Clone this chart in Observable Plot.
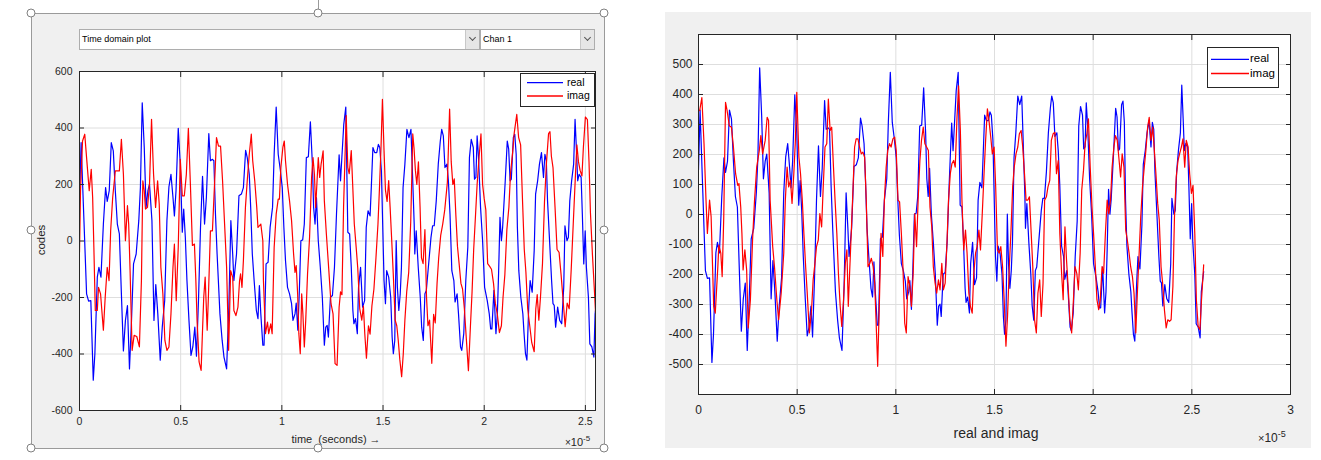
<!DOCTYPE html>
<html><head><meta charset="utf-8">
<script src="https://cdn.jsdelivr.net/npm/d3@7"></script>
<script src="https://cdn.jsdelivr.net/npm/@observablehq/plot@0.6"></script>
<style>
html,body{margin:0;padding:0;background:#fff;}
body{width:1321px;height:460px;position:relative;overflow:hidden;font-family:"Liberation Sans",Arial,Helvetica,sans-serif;color:#262626;}
.a{position:absolute;}
.handle{position:absolute;width:9px;height:9px;border:1.3px solid #808080;border-radius:50%;background:#fff;transform:translate(-50%,-50%);box-sizing:border-box;}
.dd{position:absolute;background:#fff;border:1px solid #adadad;box-sizing:border-box;font-size:9px;line-height:19px;padding-left:2px;color:#000;}
.ddbtn{position:absolute;top:0;right:0;width:13px;height:19px;background:#e6e6e6;border-left:1px solid #c8c8c8;}
.ddbtn::after{content:"";position:absolute;left:3.5px;top:5px;width:4px;height:4px;border-right:1px solid #555;border-bottom:1px solid #555;transform:rotate(45deg);}
.leg{position:absolute;background:#fff;border:1px solid #262626;box-sizing:border-box;}
.ltxt{position:absolute;color:#000;white-space:nowrap;}
svg{position:absolute;}
</style></head><body>
<script>
// ---------- data (time axis in units of 1e-5 s) ----------
const realT = [0,0.008,0.022,0.035,0.045,0.056,0.068,0.076,0.088,0.096,0.106,0.118,0.129,0.137,0.147,0.157,0.167,0.177,0.187,0.197,0.207,0.217,0.227,0.237,0.247,0.257,0.267,0.280,0.293,0.301,0.310,0.320,0.329,0.338,0.346,0.358,0.368,0.377,0.387,0.399,0.409,0.421,0.432,0.442,0.452,0.462,0.469,0.477,0.488,0.498,0.508,0.515,0.523,0.531,0.541,0.551,0.560,0.570,0.578,0.588,0.598,0.608,0.618,0.627,0.639,0.647,0.657,0.664,0.672,0.680,0.694,0.705,0.714,0.727,0.738,0.748,0.757,0.763,0.776,0.788,0.800,0.810,0.821,0.829,0.839,0.846,0.854,0.863,0.874,0.882,0.889,0.896,0.906,0.912,0.922,0.932,0.942,0.954,0.962,0.972,0.982,0.992,1.002,1.010,1.018,1.028,1.038,1.048,1.055,1.065,1.071,1.079,1.086,1.094,1.103,1.111,1.121,1.131,1.141,1.151,1.157,1.164,1.171,1.180,1.190,1.200,1.210,1.217,1.224,1.230,1.240,1.250,1.260,1.270,1.283,1.290,1.306,1.316,1.326,1.335,1.343,1.351,1.356,1.364,1.373,1.379,1.389,1.399,1.409,1.417,1.426,1.436,1.442,1.450,1.459,1.469,1.477,1.484,1.492,1.505,1.512,1.518,1.528,1.538,1.545,1.551,1.558,1.565,1.571,1.578,1.585,1.591,1.599,1.608,1.618,1.628,1.638,1.644,1.654,1.657,1.664,1.674,1.684,1.691,1.699,1.707,1.714,1.724,1.737,1.745,1.753,1.763,1.773,1.783,1.790,1.798,1.806,1.816,1.823,1.831,1.840,1.850,1.856,1.866,1.873,1.883,1.889,1.899,1.909,1.919,1.927,1.936,1.946,1.952,1.959,1.965,1.972,1.982,1.992,2.002,2.015,2.025,2.032,2.038,2.048,2.058,2.065,2.071,2.078,2.085,2.091,2.104,2.114,2.121,2.128,2.134,2.144,2.151,2.158,2.164,2.171,2.181,2.191,2.197,2.204,2.211,2.220,2.227,2.237,2.247,2.254,2.264,2.273,2.283,2.293,2.300,2.307,2.313,2.323,2.333,2.340,2.346,2.353,2.363,2.373,2.383,2.393,2.399,2.409,2.416,2.423,2.432,2.442,2.449,2.456,2.462,2.469,2.479,2.485,2.492,2.499,2.505,2.515,2.522,2.532,2.542,2.548,2.560];
const realV = [148,348,72,-187,-213,-211,-493,-399,-128,-93,-128,60,189,140,178,348,319,178,60,25,-187,-389,-281,-229,-453,-281,-81,-46,72,189,489,331,119,178,201,72,-281,-154,-258,-422,-305,-211,72,192,236,154,89,178,399,272,31,113,13,-140,-281,-405,-375,-305,-408,-211,48,229,60,154,380,284,289,284,95,-46,-258,-352,-411,-453,-234,72,-46,-140,-46,160,166,189,321,295,236,119,-46,-140,-246,-275,-158,-258,-369,-369,-81,-75,48,119,307,474,307,254,189,48,-69,-164,-187,-222,-281,-258,-220,-316,-187,1,4,60,295,298,422,272,119,60,154,1,-93,-199,-369,-305,-299,-340,-199,-193,-93,95,305,213,413,474,31,25,-93,-246,-293,-275,-328,-164,-93,-234,-211,48,107,89,189,331,313,313,342,331,248,-140,-222,-105,-128,-199,-340,-399,-352,1,-164,-246,-187,-93,189,272,395,366,395,272,60,-46,36,-93,-199,-305,-352,-187,-175,-93,13,54,54,142,272,354,395,372,260,272,213,95,-105,-140,-216,-187,-258,-375,-387,-328,-140,-22,295,360,331,219,225,372,295,119,1,-164,-211,-258,-311,-311,-175,-328,-258,-116,84,1,48,213,354,325,213,219,366,378,307,48,-105,-199,-258,-328,-399,-422,-234,-140,-181,-34,166,213,272,313,225,307,284,142,1,-140,-222,-228,-305,-234,-281,-293,-164,54,1,13,142,213,272,431,319,213,236,225,95,-81,36,-93,-199,-364,-375,-411,-258,-190];

const imagAT = [0,0.005,0.015,0.026,0.035,0.048,0.058,0.065,0.071,0.078,0.088,0.094,0.104,0.118,0.127,0.137,0.146,0.154,0.164,0.177,0.187,0.197,0.207,0.217,0.227,0.237,0.243,0.250,0.260,0.270,0.283,0.296,0.306,0.313,0.320,0.326,0.336,0.346,0.356,0.366,0.376,0.386,0.394,0.402,0.412,0.422,0.432,0.442,0.452,0.462,0.469,0.478,0.488,0.498,0.508,0.518,0.528,0.538,0.548,0.558,0.568,0.575,0.581,0.591,0.601,0.608,0.614,0.621,0.631,0.637,0.647,0.657,0.671,0.677,0.687,0.697,0.707,0.717,0.727,0.737,0.747,0.757,0.763,0.773,0.783,0.791,0.796,0.803,0.810,0.820,0.829,0.839,0.849,0.856,0.866,0.876,0.882,0.896,0.906,0.909,0.919,0.929,0.935,0.945,0.952,0.962,0.972,0.982,0.988,0.995,1.005,1.012,1.018,1.028,1.038,1.048,1.058,1.065,1.071,1.078,1.084,1.091,1.098,1.104,1.111,1.118,1.127,1.137,1.147,1.154,1.161,1.167,1.174,1.180,1.187,1.194,1.204,1.210,1.220,1.230,1.243,1.253,1.263,1.273,1.283,1.290,1.297,1.305,1.318,1.326,1.333,1.343,1.350,1.358,1.367,1.375,1.385,1.395,1.403,1.410,1.418,1.428,1.436,1.445,1.455,1.465,1.475,1.482,1.490,1.497,1.505,1.512,1.520,1.528,1.535,1.543,1.552,1.560,1.568,1.575,1.583,1.592,1.600,1.608,1.617,1.627,1.637,1.647,1.653,1.660,1.667,1.675,1.683,1.690,1.698,1.707,1.715,1.722,1.730,1.741,1.750,1.758,1.767,1.775,1.785,1.795,1.805,1.818,1.829,1.837,1.845,1.852,1.860,1.868,1.876,1.885,1.893,1.902,1.912,1.922,1.932,1.940,1.948,1.957,1.965,1.975,1.984,1.992,2.000,2.008,2.017,2.027,2.036,2.046,2.055,2.065,2.075,2.085,2.093,2.102,2.112,2.122,2.130,2.140,2.148,2.161,2.170,2.180,2.190,2.198,2.206,2.215,2.225,2.235,2.247,2.255,2.262,2.270,2.278,2.288,2.298,2.308,2.318,2.325,2.332,2.340,2.350,2.360,2.370,2.380,2.390,2.400,2.410,2.420,2.430,2.440,2.450,2.458,2.466,2.474,2.483,2.490,2.500,2.510,2.518,2.525,2.535,2.545,2.550];
const imagAV = [-40,178,354,378,295,178,254,154,-22,-246,-246,-164,-187,-316,-199,-93,-140,36,154,248,248,248,360,236,1,125,60,-105,-387,-334,-338,-375,-140,213,178,113,119,201,431,236,119,213,131,-93,-187,-352,-387,-375,-258,-93,-11,-211,-22,289,160,160,236,399,201,-16,-11,-140,-281,-428,-458,-316,-199,-128,-316,-199,36,36,260,366,336,336,213,60,-93,-387,-105,-128,-246,-264,-234,-140,-116,-164,-69,119,213,307,378,284,213,119,48,60,1,-140,-328,-287,-328,-293,-328,-22,95,148,148,260,331,354,284,201,142,72,-46,-111,-87,-187,-328,-399,-187,-258,-375,-281,-116,13,225,295,236,119,213,295,225,272,319,142,25,-81,-222,-258,-434,-440,-234,-180,-190,120,444,260,238,320,200,60,-20,-95,-240,-280,-230,-330,-415,-300,-330,-230,-170,-60,60,180,330,501,320,180,140,214,120,2,-140,-280,-300,-350,-420,-480,-400,-280,-180,-110,70,379,330,250,200,280,120,-60,-80,40,-200,-300,-280,-433,-260,-290,-150,-60,20,60,110,208,467,280,200,220,90,-20,-80,-150,-170,-240,-350,-459,-300,-180,-30,90,200,300,379,200,150,110,-80,-90,-100,-150,-220,-260,-324,-300,-200,-120,40,120,240,310,380,448,367,340,130,-30,-110,-240,-300,-360,-392,-240,-190,-280,-200,-80,140,280,380,387,300,260,120,-30,-40,-120,-210,-303,-220,-240,-100,60,220,340,280,250,230,330,439,430,280,100,-50,-180,-250];

const imagBT = [0.006,0.017,0.028,0.038,0.045,0.056,0.064,0.077,0.085,0.098,0.103,0.113,0.120,0.128,0.137,0.145,0.156,0.167,0.177,0.188,0.199,0.205,0.214,0.220,0.226,0.235,0.244,0.252,0.263,0.274,0.284,0.295,0.308,0.316,0.325,0.338,0.348,0.355,0.363,0.376,0.385,0.397,0.406,0.419,0.432,0.440,0.449,0.457,0.466,0.474,0.483,0.491,0.498,0.509,0.517,0.526,0.534,0.543,0.551,0.562,0.573,0.581,0.590,0.598,0.607,0.615,0.624,0.632,0.641,0.650,0.658,0.667,0.675,0.684,0.692,0.701,0.709,0.718,0.726,0.735,0.744,0.752,0.759,0.765,0.774,0.782,0.791,0.799,0.808,0.816,0.825,0.833,0.842,0.850,0.859,0.868,0.876,0.885,0.893,0.902,0.908,0.917,0.925,0.934,0.942,0.951,0.959,0.968,0.976,0.985,0.994,1.002,1.011,1.019,1.028,1.036,1.045,1.053,1.062,1.071,1.079,1.088,1.096,1.105,1.113,1.122,1.130,1.139,1.147,1.156,1.165,1.173,1.182,1.190,1.199,1.207,1.216,1.224,1.233,1.241,1.250,1.259,1.267,1.276,1.284,1.293,1.301,1.310,1.318,1.327,1.335,1.344,1.353,1.361,1.370,1.378,1.387,1.395,1.404,1.412,1.421,1.429,1.438,1.447,1.455,1.464,1.472,1.481,1.489,1.498,1.506,1.515,1.524,1.532,1.541,1.549,1.558,1.566,1.575,1.583,1.592,1.600,1.609,1.618,1.626,1.635,1.643,1.652,1.660,1.669,1.677,1.686,1.694,1.703,1.712,1.720,1.729,1.737,1.746,1.754,1.763,1.771,1.780,1.788,1.797,1.806,1.814,1.823,1.831,1.840,1.848,1.857,1.865,1.874,1.882,1.891,1.900,1.908,1.917,1.925,1.934,1.942,1.951,1.959,1.968,1.976,1.985,1.994,2.002,2.011,2.019,2.028,2.036,2.045,2.053,2.062,2.071,2.079,2.088,2.096,2.105,2.113,2.122,2.130,2.139,2.147,2.156,2.165,2.173,2.182,2.190,2.199,2.207,2.216,2.224,2.233,2.241,2.250,2.259,2.267,2.276,2.284,2.293,2.302,2.310,2.318,2.327,2.335,2.344,2.352,2.361,2.370,2.378,2.387,2.395,2.404,2.412,2.421,2.430,2.438,2.447,2.455,2.464,2.472,2.481,2.489,2.498,2.506,2.515,2.523,2.532,2.541,2.549,2.560];
const imagBV = [346,390,236,48,-63,48,-8,-306,-329,-174,-102,-129,-207,-8,374,346,296,291,225,136,97,103,25,-63,-185,-118,-185,-378,-284,-85,48,158,213,263,202,247,324,313,48,-107,-174,-284,-351,-262,-129,48,158,92,114,37,136,247,407,191,136,48,-63,-174,-262,-395,-317,-218,-163,-107,-85,3,-41,92,225,236,385,280,291,158,48,-63,-196,-306,-373,-284,-163,-118,-306,-207,-63,70,225,252,252,225,202,208,191,48,-174,-163,-146,-174,-229,-395,-506,-284,-63,-140,48,158,213,236,225,252,258,213,48,42,-63,-174,-362,-395,-207,-240,-306,-196,3,-107,48,180,247,291,236,225,213,25,-41,-174,-229,-262,-218,-251,-163,-251,-229,-96,48,136,169,180,158,324,429,280,48,-118,-52,-129,-262,-306,-329,-196,-129,-107,-52,-118,3,136,247,352,313,258,202,225,92,-118,-129,-107,-174,-284,-439,-340,-174,-63,92,158,202,225,269,280,225,136,48,48,59,-63,-174,-351,-395,-262,-218,-340,-229,48,59,92,114,247,269,274,136,180,-63,-196,-284,-41,-152,-251,-351,-395,-284,-174,-196,-251,-129,81,147,236,269,319,158,25,-63,-174,-284,-317,-284,-174,-196,-63,48,3,48,158,225,263,247,191,125,202,158,-52,-85,-129,-174,-207,-262,-395,-262,-129,-8,92,158,213,291,324,247,291,213,136,37,-19,-174,-229,-317,-378,-351,-356,-351,-240,-8,125,180,202,225,252,158,247,225,136,70,97,-63,-284,-373,-384,-284,-168];

// axis ticks
const xTicksA = [0,0.5,1,1.5,2,2.5];
const yTicksA = [-600,-400,-200,0,200,400,600];
const xTicksB = [0,0.5,1,1.5,2,2.5,3];
const yTicksB = [-500,-400,-300,-200,-100,0,100,200,300,400,500];
const seriesNames = ["real","imag"];
const seriesColors = ["#0000ff","#ff0000"];

const rows = (T,V) => T.map((t,i)=>({t, v: V[i]}));
const realRows = rows(realT, realV);
const imagARows = rows(imagAT, imagAV);
const imagBRows = rows(imagBT, imagBV);

const FONT = '"Liberation Sans", Arial, Helvetica, sans-serif';
const AX = "#262626";
const GRID = "#dedede";

function add(html){ document.body.insertAdjacentHTML("beforeend", html); }

// ---------- left panel chrome ----------
add(`<div class="a" style="left:31px;top:13px;width:574px;height:436px;background:#f0f0f0;border:1px solid #9a9a9a;box-sizing:border-box"></div>`);
add(`<div class="a" style="left:318px;top:0;width:1px;height:13px;background:#9a9a9a"></div>`);

function chart(opts){
  const {width,height,ml,mr,mt,mb,xd,yd,xt,yt,data,fs,padX,padY} = opts;
  return Plot.plot({
    width, height, marginLeft: ml, marginRight: mr, marginTop: mt, marginBottom: mb,
    x: {domain: xd}, y: {domain: yd},
    style: {background: "transparent", fontFamily: FONT, fontSize: fs + "px", overflow: "visible"},
    marks: [
      Plot.frame({fill: "white"}),
      Plot.gridX(xt, {stroke: GRID, strokeOpacity: 1}),
      Plot.gridY(yt, {stroke: GRID, strokeOpacity: 1}),
      ...data.map((d,i)=>Plot.line(d, {x: "t", y: "v", stroke: seriesColors[i], strokeWidth: 1.2, clip: true})),
      Plot.axisX(xt, {anchor: "bottom", tickSize: -5, tickPadding: padX, tickFormat: d => String(d), label: null, color: AX}),
      Plot.axisX(xt, {anchor: "top", tickSize: -5, fill: "none", label: null, stroke: AX}),
      Plot.axisY(yt, {anchor: "left", tickSize: -5, tickPadding: padY, tickFormat: d => String(d), label: null, color: AX}),
      Plot.axisY(yt, {anchor: "right", tickSize: -5, fill: "none", label: null, stroke: AX}),
      Plot.frame({stroke: AX, strokeWidth: 1})
    ]
  });
}

const left = chart({width: 620, height: 460, ml: 79, mr: 25, mt: 71, mb: 50,
  xd: [0, 2.55], yd: [-600, 600], xt: xTicksA, yt: yTicksA,
  data: [realRows, imagARows], fs: 10.5, padX: 12, padY: 12});
left.style.left = "0px"; left.style.top = "0px";
document.body.appendChild(left);

// right panel background then chart
add(`<div class="a" style="left:665px;top:12px;width:646px;height:436px;background:#f0f0f0"></div>`);
const right = chart({width: 661, height: 460, ml: 38, mr: 31, mt: 34, mb: 66,
  xd: [0, 3], yd: [-600, 600], xt: xTicksB, yt: yTicksB,
  data: [realRows, imagBRows], fs: 12, padX: 16, padY: 11});
right.style.left = "660px"; right.style.top = "0px";
document.body.appendChild(right);

// dropdowns (left)
add(`<div class="dd" style="left:79px;top:29px;width:401px;height:21px">Time domain plot<div class="ddbtn"></div></div>`);
add(`<div class="dd" style="left:480px;top:29px;width:115px;height:21px">Chan 1<div class="ddbtn"></div></div>`);

// axis titles
add(`<div class="a" style="left:41px;top:240px;font-size:11.5px;transform:translate(-50%,-50%) rotate(-90deg);white-space:nowrap">codes</div>`);
add(`<div class="a" style="left:336px;top:439px;font-size:11px;transform:translate(-50%,-50%);white-space:nowrap">time &nbsp;(seconds) →</div>`);
add(`<div class="a" style="left:565px;top:434px;font-size:11px;white-space:nowrap"><span style="font-size:10px">×</span>10<sup style="font-size:8px;vertical-align:5px">-5</sup></div>`);
add(`<div class="a" style="left:996px;top:433px;font-size:14px;transform:translate(-50%,-50%);white-space:nowrap">real and imag</div>`);
add(`<div class="a" style="left:1258px;top:429px;font-size:12px;white-space:nowrap"><span style="font-size:11px">×</span>10<sup style="font-size:9px;vertical-align:5px">-5</sup></div>`);

// legends
function legend(x,y,w,h,lx,lw,tx,rowsY,fs){
  let s = `<div class="leg" style="left:${x}px;top:${y}px;width:${w}px;height:${h}px"></div>`;
  s += `<svg style="left:0;top:0;overflow:visible" width="1" height="1">`;
  seriesNames.forEach((n,i)=>{
    s += `<line x1="${lx}" x2="${lx+lw}" y1="${rowsY[i]}" y2="${rowsY[i]}" stroke="${seriesColors[i]}" stroke-width="1.3"/>`;
  });
  s += `</svg>`;
  seriesNames.forEach((n,i)=>{
    s += `<div class="ltxt" style="left:${tx}px;top:${rowsY[i]}px;font-size:${fs}px;transform:translateY(-55%)">${n}</div>`;
  });
  add(s);
}
legend(520, 73, 75, 34, 527, 36, 567, [82.7, 96], 10.5);
legend(1207, 47, 72, 41, 1211, 38, 1250, [59.3, 73.5], 11.5);

// selection handles of the left figure
const hx = [31, 318, 604], hy = [13, 230, 448];
hy.forEach((y,j)=>hx.forEach((x,i)=>{ if(!(i===1 && j===1)) add(`<div class="handle" style="left:${x}px;top:${y}px"></div>`); }));
</script>
</body></html>
